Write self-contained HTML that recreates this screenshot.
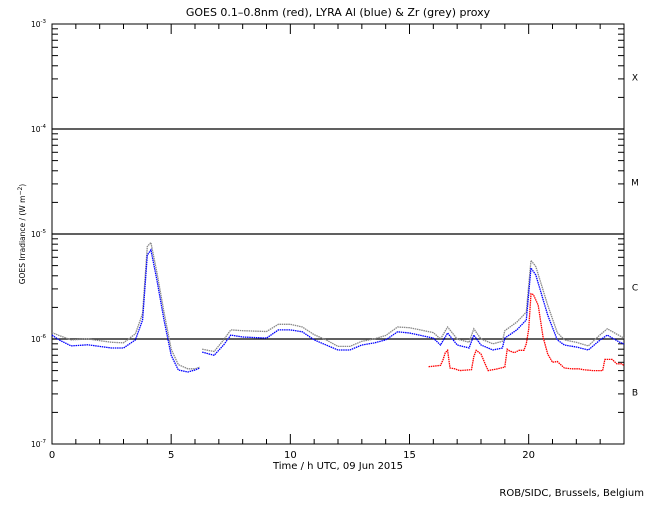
<!DOCTYPE html>
<html><head><meta charset="utf-8"><style>
body{margin:0;background:#fff;}
svg text{font-family:"DejaVu Sans","Liberation Sans",sans-serif;fill:#000;}
</style></head><body>
<svg id="chart" width="650" height="500" xmlns="http://www.w3.org/2000/svg">
<text x="338" y="16" font-size="11" text-anchor="middle">GOES 0.1–0.8nm (red), LYRA Al (blue) &amp; Zr (grey) proxy</text>
<text x="338" y="469" font-size="10" text-anchor="middle">Time / h UTC, 09 Jun 2015</text>
<text transform="translate(25,234) rotate(-90)" font-size="7.5" text-anchor="middle">GOES Irradiance / (W m<tspan baseline-shift="super" font-size="6">−2</tspan>)</text>
<text x="644" y="496" font-size="10" text-anchor="end">ROB/SIDC, Brussels, Belgium</text>
<g id="axes"></g>
<g id="series"></g>
</svg>
<script>
const hours = [0,0.3,0.8,1.5,2.5,3.0,3.5,3.8,4.0,4.15,4.4,4.7,5.0,5.3,5.7,6.0,6.2,6.3,6.8,7.2,7.5,8.0,9.0,9.5,10.0,10.5,11.0,11.5,12.0,12.5,13.0,13.5,14.0,14.5,15.0,16.0,16.3,16.6,17.0,17.5,17.7,18.0,18.5,18.9,19.0,19.5,19.9,20.1,20.3,20.8,21.2,21.5,22.0,22.5,23.0,23.3,23.8,24.0];
const lyraAl = [1.09e-6,0.98e-6,0.86e-6,0.88e-6,0.82e-6,0.82e-6,0.98e-6,1.52e-6,6.3e-6,7.05e-6,3.65e-6,1.52e-6,0.70e-6,0.507e-6,0.485e-6,0.507e-6,0.53e-6,0.75e-6,0.70e-6,0.877e-6,1.09e-6,1.045e-6,1.02e-6,1.22e-6,1.22e-6,1.17e-6,0.98e-6,0.877e-6,0.786e-6,0.786e-6,0.877e-6,0.916e-6,0.98e-6,1.17e-6,1.14e-6,1.02e-6,0.877e-6,1.14e-6,0.877e-6,0.82e-6,1.09e-6,0.877e-6,0.786e-6,0.82e-6,1.02e-6,1.22e-6,1.52e-6,4.74e-6,4.07e-6,1.69e-6,0.98e-6,0.877e-6,0.84e-6,0.786e-6,0.98e-6,1.09e-6,0.936e-6,0.896e-6];
const zrProxy = [1.15e-6,1.08e-6,0.98e-6,1.0e-6,0.93e-6,0.92e-6,1.12e-6,1.75e-6,7.6e-6,8.3e-6,4.3e-6,1.8e-6,0.80e-6,0.57e-6,0.52e-6,0.52e-6,0.54e-6,0.80e-6,0.76e-6,0.98e-6,1.22e-6,1.2e-6,1.18e-6,1.38e-6,1.38e-6,1.3e-6,1.1e-6,0.98e-6,0.85e-6,0.85e-6,0.95e-6,1.0e-6,1.08e-6,1.3e-6,1.28e-6,1.15e-6,1.0e-6,1.3e-6,1.0e-6,0.93e-6,1.25e-6,1.0e-6,0.9e-6,0.95e-6,1.2e-6,1.45e-6,1.8e-6,5.6e-6,4.9e-6,2.1e-6,1.15e-6,0.98e-6,0.93e-6,0.86e-6,1.1e-6,1.25e-6,1.08e-6,1.02e-6];
const goesHours = [15.8,16.3,16.4,16.5,16.6,16.7,16.9,17.1,17.6,17.7,17.8,18.0,18.2,18.3,18.5,18.7,19.0,19.1,19.2,19.4,19.6,19.8,19.9,20.0,20.1,20.2,20.4,20.6,20.8,21.0,21.2,21.5,21.8,22.1,22.3,22.7,23.1,23.2,23.5,23.7,23.9,24.0];
const goesXray = [0.545e-6,0.56e-6,0.63e-6,0.74e-6,0.78e-6,0.53e-6,0.52e-6,0.50e-6,0.51e-6,0.68e-6,0.78e-6,0.72e-6,0.56e-6,0.50e-6,0.51e-6,0.52e-6,0.54e-6,0.80e-6,0.77e-6,0.74e-6,0.78e-6,0.78e-6,0.90e-6,1.24e-6,2.7e-6,2.65e-6,2.1e-6,1.05e-6,0.72e-6,0.60e-6,0.61e-6,0.53e-6,0.52e-6,0.52e-6,0.51e-6,0.50e-6,0.50e-6,0.64e-6,0.64e-6,0.58e-6,0.58e-6,0.56e-6];
const dataGapStart = 6.2;
const xTicks = [0,5,10,15,20];
const yDecades = [-7,-6,-5,-4,-3];
const flareClasses = ["B","C","M","X"];

const L=52,R=624,T=24,B=444;
const xs=h=>L+(h/24)*(R-L);
const ys=v=>B-(Math.log10(v)+7)/4*(B-T);
const NS="http://www.w3.org/2000/svg";
function mk(tag,attrs,parent){const e=document.createElementNS(NS,tag);for(const k in attrs)e.setAttribute(k,attrs[k]);parent.appendChild(e);return e;}
const ax=document.getElementById('axes');
const frame=mk('rect',{x:L,y:T,width:R-L,height:B-T,fill:'none',stroke:'#000','stroke-width':1},ax);


for(let h=0;h<=24;h++){
  const x=xs(h),len=(h%5===0)?10:5;
  const t1=mk('line',{x1:x,x2:x,y1:B,y2:B-len,stroke:'#000'},ax);
  
  
  const t2=mk('line',{x1:x,x2:x,y1:T,y2:T+len,stroke:'#000'},ax);
  
  
}
xTicks.forEach(h=>{
  const t=mk('text',{x:xs(h),y:B+14,'font-size':10,'text-anchor':'middle'},ax);t.textContent=h;
  
  
});
yDecades.forEach((d,i)=>{
  const y=ys(Math.pow(10,d));
  const lab=mk('text',{x:46,y:y+3,'font-size':7.5,'text-anchor':'end'},ax);
  lab.innerHTML='10<tspan dy="-4" font-size="5.5">'+d+'</tspan>';
  
  
  if(d>-7&&d<-3){
    const g=mk('line',{x1:L,x2:R,y1:y,y2:y,stroke:'#000','stroke-width':1.2},ax);
    
    
  }
  if(i<yDecades.length-1){
    const c=mk('text',{x:635,y:ys(Math.pow(10,d+0.5))+4,'font-size':9,'text-anchor':'middle'},ax);
    c.textContent=flareClasses[i];
    
    
    for(let m=2;m<=9;m++){
      const yy=ys(m*Math.pow(10,d));
      const a=mk('line',{x1:L,x2:L+6,y1:yy,y2:yy,stroke:'#000'},ax);
      
      
      const b=mk('line',{x1:R,x2:R-6,y1:yy,y2:yy,stroke:'#000'},ax);
      
      
    }
  }
});
const sg=document.getElementById('series');
function series(hh,vv,color,name,gap){
  let d='';
  hh.forEach((h,i)=>{
    const cmd=(i===0||(gap!==undefined&&hh[i-1]<=gap&&h>gap))?'M':'L';
    d+=cmd+xs(h).toFixed(1)+','+ys(vv[i]).toFixed(1)+' ';
  });
  const p=mk('path',{d:d,fill:'none',stroke:color,'stroke-width':1.3,'stroke-dasharray':'1.5 0.7'},sg);
  
  
}
series(hours,zrProxy,'#888888','zr-proxy-line',dataGapStart);
series(hours,lyraAl,'#0000ff','lyra-al-line',dataGapStart);
series(goesHours,goesXray,'#ff0000','goes-xray-line');
</script>
</body></html>
